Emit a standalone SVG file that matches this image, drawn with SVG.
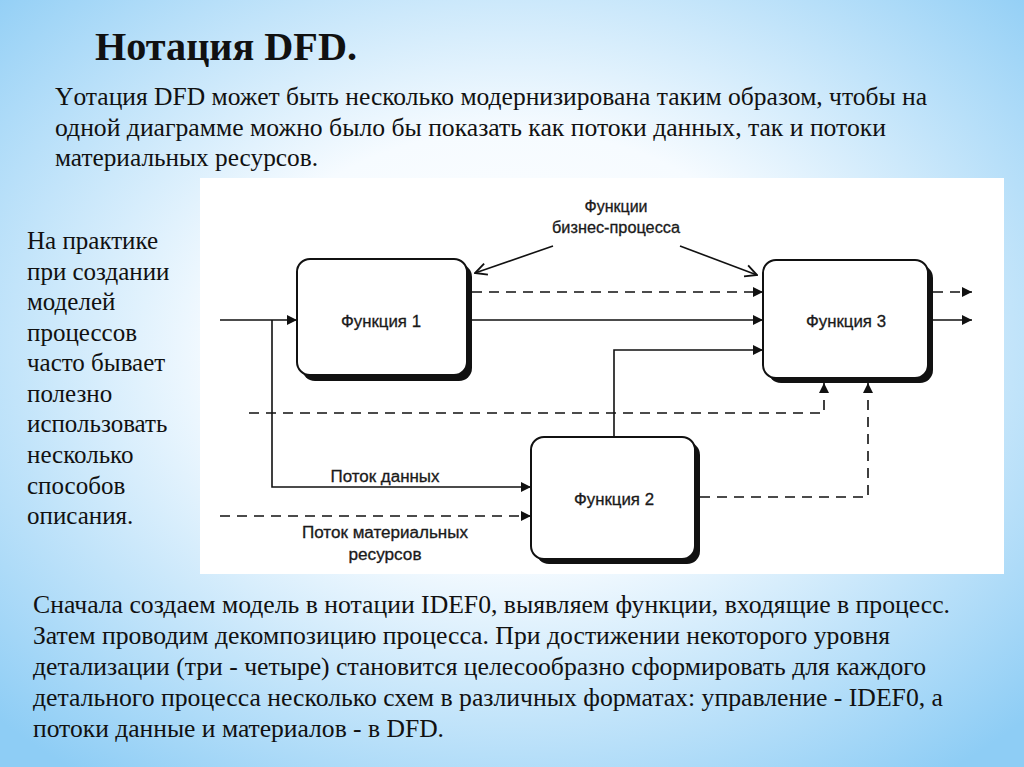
<svg xmlns="http://www.w3.org/2000/svg" width="1024" height="767" viewBox="0 0 1024 767">
<defs>
<radialGradient id="bg" cx="50%" cy="45%" r="70%">
<stop offset="0" stop-color="#ffffff"/>
<stop offset="0.4" stop-color="#f6fbff"/>
<stop offset="1" stop-color="#8ecdf5"/>
</radialGradient>
<marker id="ah" viewBox="0 0 10 10" refX="10" refY="5" markerWidth="11" markerHeight="10" markerUnits="userSpaceOnUse" orient="auto">
<path d="M0,0 L10,5 L0,10 z" fill="#111"/>
</marker>
<marker id="oh" viewBox="0 0 12 12" refX="11" refY="6" markerWidth="14" markerHeight="14" markerUnits="userSpaceOnUse" orient="auto">
<path d="M1,1 L11,6 L1,11" fill="none" stroke="#111" stroke-width="1.6"/>
</marker>
</defs>
<style>
.serif{font-family:"Liberation Serif","Times New Roman",serif;fill:#111}
.sans{font-family:"Liberation Sans",Arial,sans-serif;fill:#1a1a1a;stroke:#1a1a1a;stroke-width:0.3}
.box{fill:#fff;stroke:#111;stroke-width:2}
.sh{fill:#111}
.ln{fill:none;stroke:#111;stroke-width:1.6}
.dash{stroke-dasharray:10 7}
</style>
<rect width="1024" height="767" fill="url(#bg)"/>
<rect x="200" y="178" width="804" height="396" fill="#fff"/>

<g id="title">
<text class="serif" x="95" y="60" font-size="39" font-weight="bold" textLength="262" lengthAdjust="spacingAndGlyphs">Нотация DFD.</text>
</g>
<g id="intro" class="serif" font-size="25">
<text x="55" y="105" textLength="872" lengthAdjust="spacingAndGlyphs">Yотация DFD может быть несколько модернизирована таким образом, чтобы на</text>
<text x="55" y="136" textLength="831" lengthAdjust="spacingAndGlyphs">одной диаграмме можно было бы показать как потоки данных, так и потоки</text>
<text x="55" y="166" textLength="263" lengthAdjust="spacingAndGlyphs">материальных ресурсов.</text>
</g>
<g id="side" class="serif" font-size="25">
<text x="27" y="249">На практике</text>
<text x="27" y="280">при создании</text>
<text x="27" y="310">моделей</text>
<text x="27" y="341">процессов</text>
<text x="27" y="371">часто бывает</text>
<text x="27" y="402">полезно</text>
<text x="27" y="432">использовать</text>
<text x="27" y="463">несколько</text>
<text x="27" y="494">способов</text>
<text x="27" y="524">описания.</text>
</g>
<g id="bottom" class="serif" font-size="25">
<text x="33" y="613" textLength="917" lengthAdjust="spacingAndGlyphs">Сначала создаем модель в нотации IDEF0, выявляем функции, входящие в процесс.</text>
<text x="33" y="644" textLength="857" lengthAdjust="spacingAndGlyphs">Затем проводим декомпозицию процесса. При достижении некоторого уровня</text>
<text x="33" y="675" textLength="893" lengthAdjust="spacingAndGlyphs">детализации (три - четыре) становится целесообразно сформировать для каждого</text>
<text x="33" y="706" textLength="910" lengthAdjust="spacingAndGlyphs">детального процесса несколько схем в различных форматах: управление - IDEF0, а</text>
<text x="33" y="737" textLength="411" lengthAdjust="spacingAndGlyphs">потоки данные и материалов - в DFD.</text>
</g>

<g id="connectors">
<path class="ln" d="M220,320 H297" marker-end="url(#ah)"/>
<path class="ln" d="M272,320 V487 H531" marker-end="url(#ah)"/>
<path class="ln dash" d="M220,516 H531" marker-end="url(#ah)"/>
<path class="ln dash" d="M472,292 H763" marker-end="url(#ah)"/>
<path class="ln" d="M472,320 H763" marker-end="url(#ah)"/>
<path class="ln" d="M614,437 V350 H763" marker-end="url(#ah)"/>
<path class="ln dash" d="M249,413 H824 V383" marker-end="url(#ah)"/>
<path class="ln dash" d="M700,497 H868 V383" marker-end="url(#ah)"/>
<path class="ln dash" d="M933,292 H972" marker-end="url(#ah)"/>
<path class="ln" d="M933,320 H972" marker-end="url(#ah)"/>
<path class="ln" d="M553,246 L475,273" marker-end="url(#oh)"/>
<path class="ln" d="M680,246 L757,275" marker-end="url(#oh)"/>
</g>

<g id="f1">
<rect class="sh" x="302" y="264" width="170" height="117" rx="13"/>
<rect class="box" x="297" y="259" width="170" height="116" rx="13"/>
<text class="sans" x="381" y="327" font-size="17" text-anchor="middle" textLength="80" lengthAdjust="spacingAndGlyphs">Функция 1</text>
</g>
<g id="f3">
<rect class="sh" x="768" y="265" width="165" height="118" rx="13"/>
<rect class="box" x="763" y="260" width="165" height="118" rx="13"/>
<text class="sans" x="846" y="327" font-size="17" text-anchor="middle" textLength="80" lengthAdjust="spacingAndGlyphs">Функция 3</text>
</g>
<g id="f2">
<rect class="sh" x="536" y="442" width="164" height="122" rx="13"/>
<rect class="box" x="531" y="437" width="164" height="122" rx="13"/>
<text class="sans" x="614" y="505" font-size="17" text-anchor="middle" textLength="80" lengthAdjust="spacingAndGlyphs">Функция 2</text>
</g>

<g id="labels" class="sans" font-size="16" text-anchor="middle">
<text x="616" y="212">Функции</text>
<text x="616" y="233" textLength="128" lengthAdjust="spacingAndGlyphs">бизнес-процесса</text>
<text x="385" y="482" textLength="109" lengthAdjust="spacingAndGlyphs">Поток данных</text>
<text x="385" y="538" textLength="166" lengthAdjust="spacingAndGlyphs">Поток материальных</text>
<text x="385" y="560" textLength="73" lengthAdjust="spacingAndGlyphs">ресурсов</text>
</g>
</svg>
